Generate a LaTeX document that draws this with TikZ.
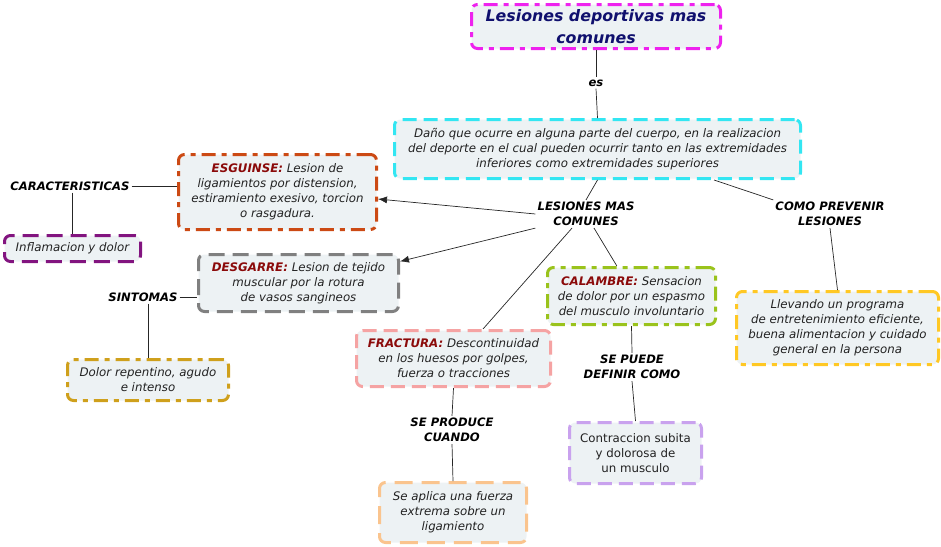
\documentclass[tikz,border=0pt]{standalone}
\usepackage{fontspec}
\setmainfont{DejaVu Sans}
\usetikzlibrary{arrows.meta}
\definecolor{boxfill}{HTML}{EDF2F4}
\definecolor{cMag}{HTML}{EE22EE}
\definecolor{cCyan}{HTML}{33E6F2}
\definecolor{cOrg}{HTML}{CC4A14}
\definecolor{cPur}{HTML}{82147F}
\definecolor{cGray}{HTML}{808080}
\definecolor{cGold}{HTML}{CFA01C}
\definecolor{cPink}{HTML}{F5A3A3}
\definecolor{cPeach}{HTML}{FAC48E}
\definecolor{cGreen}{HTML}{9AC31C}
\definecolor{cLav}{HTML}{C9A2EE}
\definecolor{cYel}{HTML}{FFC824}
\definecolor{kw}{HTML}{8B0A0A}
\definecolor{navy}{HTML}{10106E}
\definecolor{txt}{HTML}{222222}
\newcommand{\kwd}[1]{{\color{kw}\bfseries #1}}
\tikzset{
  cbox/.style={draw, fill=boxfill, rounded corners=6pt, line width=3pt, align=center,
    font=\fontsize{11.8}{15}\selectfont\itshape, text=txt, inner sep=1pt},
  dsh/.style={dash pattern=on 14pt off 7pt},
  dshdot/.style={dash pattern=on 14pt off 6pt on 5pt off 6pt},
  lbl/.style={font=\fontsize{11.6}{15}\selectfont\bfseries\itshape, align=center, inner sep=2pt, fill=white},
  conn/.style={draw=black!85, line width=0.7pt},
  arr/.style={conn, -{Latex[length=9pt,width=7pt]}}
}
\begin{document}
\begin{tikzpicture}[x=1pt,y=-1pt]
\useasboundingbox (0,0) rectangle (941,546);
% boxes
\node[cbox, draw=cMag, dshdot, minimum width=249pt, minimum height=44pt,
  font=\fontsize{15.8}{22}\selectfont\bfseries\itshape, text=navy] (title) at (596,26.5)
  {Lesiones deportivas mas\\comunes};
\node[cbox, draw=cCyan, dsh, minimum width=406pt, minimum height=59pt] (desc) at (597.5,149)
  {Daño que ocurre en alguna parte del cuerpo, en la realizacion\\del deporte en el cual pueden ocurrir tanto en las extremidades\\inferiores como extremidades superiores};
\node[cbox, draw=cOrg, dshdot, minimum width=198pt, minimum height=75pt] (esg) at (277.5,192)
  {\kwd{ESGUINSE:} Lesion de\\ligamientos por distension,\\estiramiento exesivo, torcion\\o rasgadura.};
\node[cbox, draw=cPur, dash pattern=on 16pt off 8pt, minimum width=136pt, minimum height=26pt] (infl) at (72.5,248.5)
  {Inflamacion y dolor};
\node[cbox, draw=cGray, dash pattern=on 16pt off 8pt, minimum width=200pt, minimum height=57pt] (desg) at (298.5,283)
  {\kwd{DESGARRE:} Lesion de tejido\\muscular por la rotura\\de vasos sangineos};
\node[cbox, draw=cGold, dshdot, minimum width=161pt, minimum height=41pt] (dolor) at (148,380)
  {Dolor repentino, agudo\\e intenso};
\node[cbox, draw=cPink, dsh, minimum width=194pt, minimum height=56pt] (fract) at (453.5,358.5)
  {\kwd{FRACTURA:} Descontinuidad\\en los huesos por golpes,\\fuerza o tracciones};
\node[cbox, draw=cPeach, dash pattern=on 18pt off 9pt, minimum width=147pt, minimum height=60pt] (aplica) at (453,512.5)
  {Se aplica una fuerza\\extrema sobre un\\ligamiento};
\node[cbox, draw=cGreen, dshdot, minimum width=168pt, minimum height=57pt] (calam) at (631.5,296)
  {\kwd{CALAMBRE:} Sensacion\\de dolor por un espasmo\\del musculo involuntario};
\node[cbox, draw=cLav, dsh, minimum width=132pt, minimum height=61pt, font=\fontsize{11.8}{15}\selectfont\upshape] (contr) at (635.5,453)
  {Contraccion subita\\y dolorosa de\\un musculo};
\node[cbox, draw=cYel, dshdot, minimum width=202pt, minimum height=73pt] (llev) at (837.5,328)
  {Llevando un programa\\de entretenimiento eficiente,\\buena alimentacion y cuidado\\general en la persona};
% labels
\node[lbl] (es) at (596,83) {es};
\node[lbl] (lesmas) at (586,214) {LESIONES MAS\\COMUNES};
\node[lbl] (como) at (830,214) {COMO PREVENIR\\LESIONES};
\node[lbl] (caract) at (70,186) {CARACTERISTICAS};
\node[lbl] (sint) at (143,297) {SINTOMAS};
\node[lbl] (seprod) at (452,430) {SE PRODUCE\\CUANDO};
\node[lbl] (sepuede) at (632,367) {SE PUEDE\\DEFINIR COMO};
% connectors
\draw[conn] (title.south) -- (es.north);
\draw[conn] (es.south) -- (desc.north);
\draw[conn] (desc.south) -- (lesmas.north);
\draw[conn] (desc.south east) ++(-88,0) coordinate (dc) -- (como.north west);
\draw[arr] (lesmas.west) -- (esg.-4);
\draw[arr] (lesmas.south west) -- (desg.12);
\draw[conn] (lesmas.south) ++(-14,0) coordinate (l1) -- (fract.45);
\draw[conn] (lesmas.south) ++(8,0) coordinate (l2) -- (calam.116);
\draw[conn] (caract.east) -- (caract.east -| esg.west);
\draw[conn] (infl.north |- caract.south) -- (infl.north);
\draw[conn] (sint.east) -- (sint.east -| desg.west);
\draw[conn] (dolor.north |- sint.south) -- (dolor.north);
\draw[conn] (fract.south) -- (seprod.north);
\draw[conn] (seprod.south) -- (aplica.north);
\draw[conn] (calam.south) -- (sepuede.north);
\draw[conn] (sepuede.south) -- (contr.north);
\draw[conn] (como.south) -- (llev.north);
\end{tikzpicture}
\end{document}
